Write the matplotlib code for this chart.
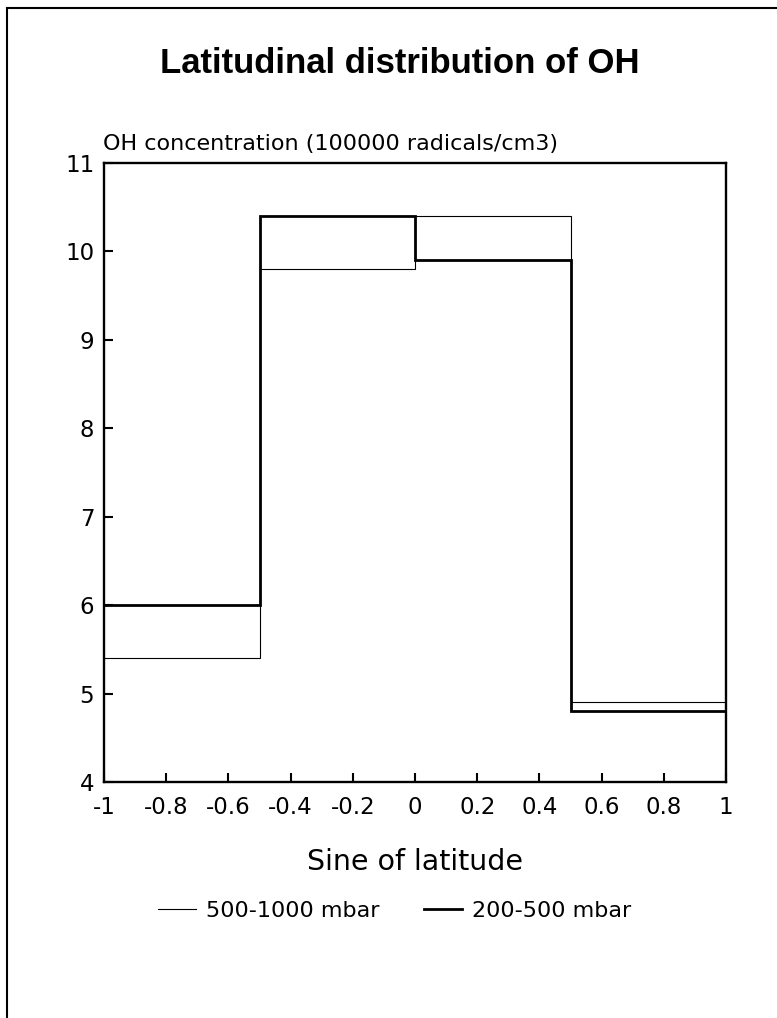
import matplotlib.pyplot as plt
from matplotlib.patches import Rectangle
from matplotlib.lines import Line2D

plt.rcParams['font.family'] = ['DejaVu Sans']

# latitude bands (sine of latitude) and mean OH per band
band_edges = [-1.0, -0.5, 0.0, 0.5, 1.0]
oh_500_1000 = [5.4, 9.8, 10.4, 4.9]
oh_200_500 = [6.0, 10.4, 9.9, 4.8]
series_labels = ["500-1000 mbar", "200-500 mbar"]

x_ticks = [-1, -0.8, -0.6, -0.4, -0.2, 0, 0.2, 0.4, 0.6, 0.8, 1]
x_ticklabels = ["-1", "-0.8", "-0.6", "-0.4", "-0.2", "0", "0.2", "0.4", "0.6", "0.8", "1"]
y_ticks = [4, 5, 6, 7, 8, 9, 10, 11]

W, H = 777, 1018


def make_plot():
    fig = plt.figure(figsize=(W / 100, H / 100), dpi=100)
    ax = fig.add_axes([104 / W, 1 - 782 / H, 622 / W, 619 / H])

    ax.stairs(oh_500_1000, band_edges, baseline=None, color="black", linewidth=0.8)
    ax.stairs(oh_200_500, band_edges, baseline=None, color="black", linewidth=2.0)

    ax.set_xlim(-1, 1)
    ax.set_ylim(4, 11)
    ax.set_xticks(x_ticks)
    ax.set_xticklabels(x_ticklabels)
    ax.set_yticks(y_ticks)
    ax.tick_params(direction="in", length=6.5, width=1.5, labelsize=16.5)
    ax.tick_params(axis="x", pad=10)
    ax.tick_params(axis="y", pad=7)
    for s in ax.spines.values():
        s.set_linewidth(1.7)

    fig.text(415 / W, 1 - 862 / H, "Sine of latitude", fontsize=20.5,
             ha="center", va="center")
    fig.text(103 / W, 1 - 150 / H, "OH concentration (100000 radicals/cm3)",
             fontsize=16, ha="left", va="baseline")

    fig.text(400 / W, 1 - 73 / H, "Latitudinal distribution of OH", fontsize=25,
             fontweight="bold", family="Liberation Sans", ha="center", va="baseline")

    handles = [Line2D([], [], color="black", linewidth=0.8),
               Line2D([], [], color="black", linewidth=2.0)]
    fig.legend(handles, series_labels, loc="center left",
               bbox_to_anchor=(158 / W, 1 - 911 / H), borderpad=0, borderaxespad=0,
               ncol=2, frameon=False, fontsize=16, handlelength=1.7,
               handletextpad=0.45, columnspacing=2.0)

    # page border from the scanned figure
    fig.add_artist(Rectangle((7 / W, -0.1), 1.2, 1.1 - 8 / H, transform=fig.transFigure,
                             fill=False, edgecolor="black", linewidth=1.5))
    return fig


def main():
    fig = make_plot()
    fig.savefig("out.png", dpi=100)


if __name__ == "__main__":
    main()
